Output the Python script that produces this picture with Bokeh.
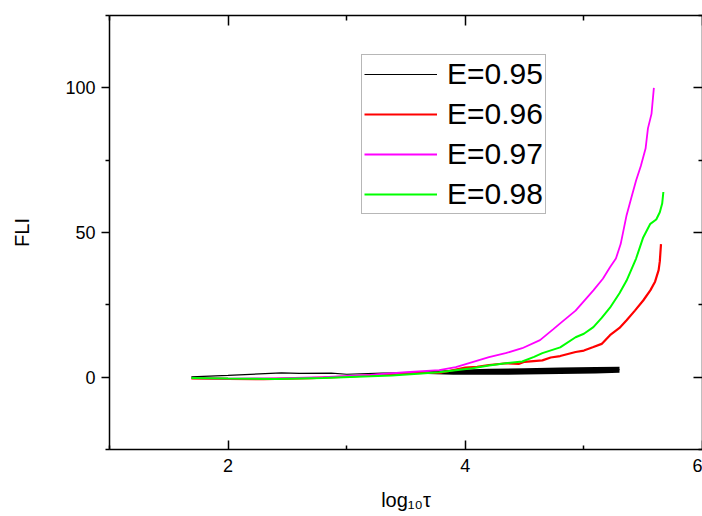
from bokeh.plotting import figure
from bokeh.models import Range1d, LinearAxis, FixedTicker, Legend, LegendItem
from bokeh.embed import file_html
from bokeh.resources import INLINE

# ---------------- data ----------------
series_labels = ["E=0.95", "E=0.96", "E=0.97", "E=0.98"]
series_colors = ["#000000", "#ff0000", "#ff00ff", "#00ff00"]

x_e095 = [1.69, 2.0, 2.45, 2.6, 2.87, 3.0, 3.3, 3.6, 3.9, 4.2, 4.5, 4.8, 5.1, 5.3]
y_e095 = [0.1, 0.6, 1.5, 1.3, 1.4, 1.0, 1.4, 1.5, 1.6, 1.8, 2.0, 2.2, 2.4, 2.6]
# noise envelope of E=0.95 (thick band)
band_x = [3.6, 3.9, 4.2, 4.5, 4.8, 5.1, 5.3]
band_lo = [1.2, 0.8, 0.8, 0.9, 1.1, 1.3, 1.5]
band_hi = [1.8, 2.6, 2.9, 3.1, 3.3, 3.5, 3.6]

x_e096 = [1.69, 2.0, 2.3, 2.7, 3.0, 3.3, 3.5, 3.8, 4.0, 4.1, 4.2, 4.35, 4.45,
          4.5, 4.65, 4.72, 4.8, 4.93, 5.0, 5.08, 5.15, 5.22, 5.3, 5.36, 5.43,
          5.5, 5.56, 5.6, 5.63, 5.64, 5.65]
y_e096 = [-0.4, -0.6, -0.7, -0.3, 0.2, 0.9, 1.4, 1.6, 3.3, 3.6, 4.2, 4.8, 4.6,
          5.3, 5.8, 6.8, 7.3, 8.7, 9.2, 10.4, 11.5, 14.5, 17.0, 19.7, 23.0,
          26.5, 30.0, 33.0, 37.0, 40.0, 46.0]

x_e097 = [1.69, 2.0, 2.4, 2.8, 3.2, 3.5, 3.78, 3.92, 4.06, 4.2, 4.34, 4.48,
          4.63, 4.74, 4.80, 4.93, 5.08, 5.16, 5.22, 5.27, 5.31, 5.36, 5.40,
          5.44, 5.48, 5.52, 5.54, 5.57, 5.59]
y_e097 = [-0.3, -0.5, -0.4, 0.0, 0.8, 1.7, 2.4, 3.5, 5.2, 6.9, 8.3, 10.0,
          12.8, 16.5, 18.6, 23.0, 30.0, 34.0, 38.0, 41.0, 46.0, 56.0, 62.0,
          68.0, 73.0, 79.0, 86.0, 91.0, 100.0]

x_e098 = [1.69, 2.0, 2.4, 2.8, 3.2, 3.38, 3.6, 3.78, 3.92, 4.06, 4.2, 4.34,
          4.48, 4.58, 4.65, 4.8, 4.93, 5.0, 5.08, 5.15, 5.22, 5.3, 5.36, 5.44,
          5.5, 5.56, 5.61, 5.64, 5.66, 5.67]
y_e098 = [-0.3, -0.5, -0.6, -0.3, 0.3, 0.6, 1.2, 1.7, 2.4, 3.1, 4.0, 4.8,
          5.4, 7.0, 8.3, 10.3, 13.8, 15.0, 17.3, 20.5, 24.0, 29.0, 33.4, 41.0,
          48.3, 53.0, 54.5, 57.0, 60.0, 64.0]

x_major = [2, 4, 6]
x_minor = [1, 3, 5]
y_major = [0, 50, 100]
y_minor = [-25, 25, 75, 125]

FONT = "Liberation Sans"

p = figure(width=702, height=516, output_backend="svg", toolbar_location=None,
           x_range=Range1d(1, 6), y_range=Range1d(-25, 125),
           min_border_left=109, min_border_right=0, min_border_top=15,
           min_border_bottom=67, x_axis_location=None, y_axis_location=None)
p.grid.visible = False
p.outline_line_color = None
p.background_fill_color = "white"
p.border_fill_color = "white"

xt = FixedTicker(ticks=x_major, minor_ticks=x_minor)
yt = FixedTicker(ticks=y_major, minor_ticks=y_minor)

def style(ax, tin, tout, mtin, mtout, labels):
    ax.axis_line_color = "black"
    ax.axis_line_width = 1.5
    ax.major_tick_line_color = "black"
    ax.major_tick_line_width = 1.5
    ax.minor_tick_line_color = "black"
    ax.minor_tick_line_width = 1.5
    ax.major_tick_in = tin
    ax.major_tick_out = tout
    ax.minor_tick_in = mtin
    ax.minor_tick_out = mtout
    if labels:
        ax.major_label_text_font = FONT
        ax.major_label_text_font_size = "18px"
        ax.major_label_text_color = "black"
    else:
        ax.major_label_text_font_size = "0px"
        ax.major_label_text_alpha = 0
        ax.major_label_standoff = 0
        ax.axis_label_standoff = 0

bottom = LinearAxis(ticker=xt, axis_label="log₁₀τ")
style(bottom, 9, 0, 4, 0, True)
bottom.major_label_standoff = 9
bottom.axis_label_text_font = FONT
bottom.axis_label_text_font_size = "20px"
bottom.axis_label_text_font_style = "normal"
bottom.axis_label_text_color = "black"
bottom.axis_label_standoff = 14
p.add_layout(bottom, "below")

left = LinearAxis(ticker=yt, axis_label="FLI")
style(left, 0, 8, 0, 4, True)
left.major_label_standoff = 6
left.axis_label_text_font = FONT
left.axis_label_text_font_size = "20px"
left.axis_label_text_font_style = "normal"
left.axis_label_text_color = "black"
left.axis_label_standoff = 29
p.add_layout(left, "left")

top = LinearAxis(ticker=xt)
style(top, 10, 0, 5, 0, False)
p.add_layout(top, "above")

right = LinearAxis(ticker=yt)
style(right, 9, 0, 4, 0, False)
p.add_layout(right, "right")

# ---------------- curves ----------------
r0 = p.line(x_e095, y_e095, line_color=series_colors[0], line_width=1.2)
p.varea(x=band_x, y1=band_lo, y2=band_hi, fill_color="black")
r1 = p.line(x_e096, y_e096, line_color=series_colors[1], line_width=2.2)
r2 = p.line(x_e097, y_e097, line_color=series_colors[2], line_width=1.8)
r3 = p.line(x_e098, y_e098, line_color=series_colors[3], line_width=2.0)

legend = Legend(items=[LegendItem(label=l, renderers=[r])
                       for l, r in zip(series_labels, [r0, r1, r2, r3])],
                location=(252, 235), margin=0, padding=2, spacing=6,
                glyph_width=73, glyph_height=32, label_height=32,
                label_standoff=10, label_text_font=FONT,
                label_text_font_size="30px", label_text_color="black",
                border_line_color="#707070", border_line_width=1.5,
                background_fill_color="white", background_fill_alpha=1)
p.add_layout(legend, "center")

open("out.html", "w").write(file_html(p, INLINE))
